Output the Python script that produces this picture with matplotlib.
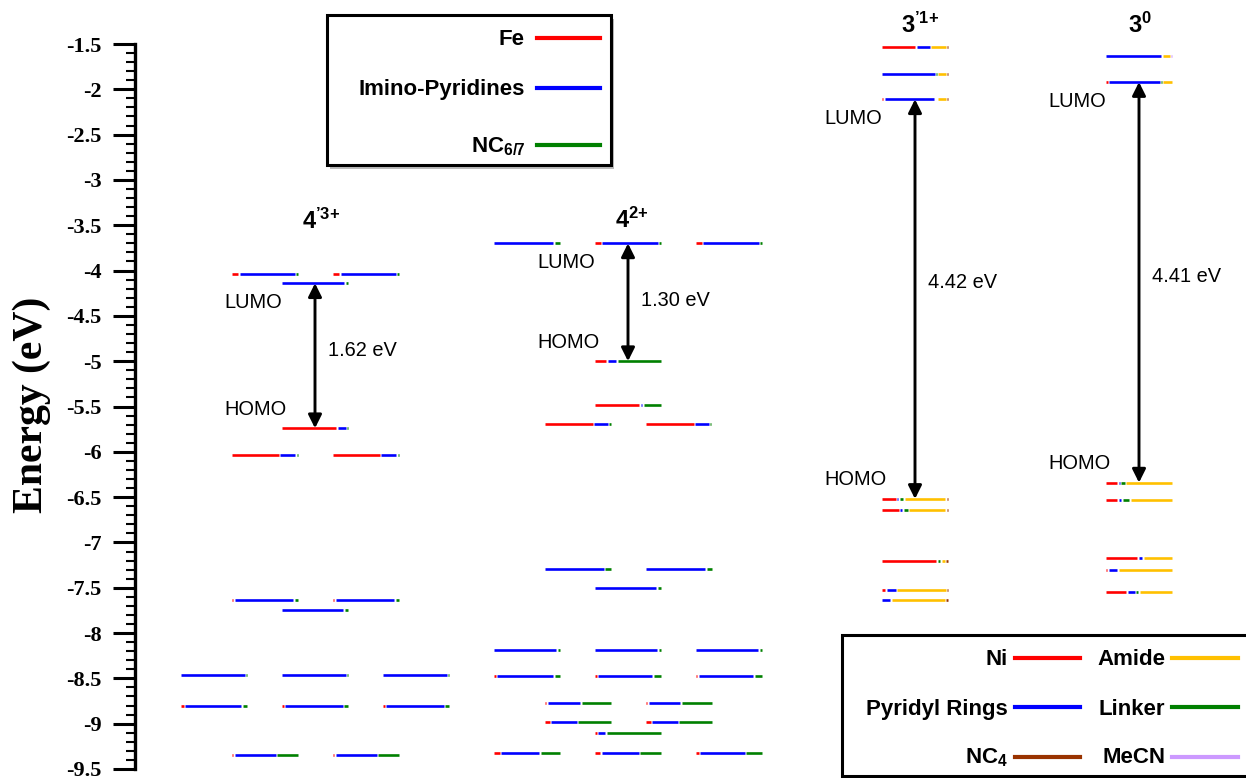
import matplotlib
matplotlib.use("Agg")
import matplotlib.pyplot as plt
from matplotlib.patches import Rectangle
from matplotlib.lines import Line2D
from matplotlib.ticker import MultipleLocator, FuncFormatter

plt.rcParams['font.family'] = ['Liberation Sans', 'DejaVu Sans']
plt.rcParams['mathtext.fontset'] = 'custom'
plt.rcParams['mathtext.rm'] = 'Liberation Sans'
plt.rcParams['mathtext.bf'] = 'Liberation Sans:bold'
plt.rcParams['mathtext.it'] = 'Liberation Sans:italic'
plt.rcParams['axes.unicode_minus'] = False

# colours of the fragments
fe_colors = ['#ff0000', '#0000ff', '#008000']                      # Fe, imino-pyridines, NC6/7
ni_colors = ['#ff0000', '#0000ff', '#008000', '#ffc000', '#993300', '#cc99ff']  # Ni, pyridyl, linker, amide, NC4, MeCN

# 4'3+ levels: energy, slot (column), fractions (Fe, imino-pyridines, NC6/7)
a_energy = [-4.04, -4.04, -4.14, -5.74, -6.03, -6.03, -7.63, -7.63, -7.74,
            -8.46, -8.46, -8.46, -8.81, -8.81, -8.81, -9.34, -9.34]
a_slot = [-1, 1, 0, 0, -1, 1, -1, 1, 0, -2, 0, 2, -2, 0, 2, -1, 1]
a_comp = [(0.11, 0.87, 0.02), (0.11, 0.87, 0.02), (0.0, 0.97, 0.03), (0.86, 0.13, 0.01),
          (0.75, 0.24, 0.01), (0.75, 0.24, 0.01), (0.03, 0.93, 0.04), (0.03, 0.93, 0.04),
          (0.0, 0.95, 0.05), (0.0, 0.99, 0.01), (0.0, 0.99, 0.01), (0.0, 0.99, 0.01),
          (0.04, 0.89, 0.07), (0.03, 0.91, 0.06), (0.03, 0.91, 0.06),
          (0.03, 0.65, 0.32), (0.03, 0.65, 0.32)]

# 4 2+ levels
b_energy = [-3.70, -3.70, -3.70, -5.00, -5.48, -5.69, -5.69, -7.29, -7.29, -7.50,
            -8.19, -8.19, -8.19, -8.47, -8.47, -8.47, -8.77, -8.77, -8.98, -8.98,
            -9.10, -9.32, -9.32, -9.32]
b_slot = [-2, 0, 2, 0, 0, -1, 1, -1, 1, 0, -2, 0, 2, -2, 0, 2, -1, 1, -1, 1, 0, -2, 0, 2]
b_comp = [(0.0, 0.92, 0.08), (0.09, 0.88, 0.03), (0.09, 0.88, 0.03), (0.18, 0.13, 0.69),
          (0.70, 0.03, 0.27), (0.76, 0.21, 0.02), (0.76, 0.21, 0.02), (0.0, 0.92, 0.08),
          (0.0, 0.93, 0.07), (0.0, 0.95, 0.05), (0.0, 0.97, 0.03), (0.0, 0.97, 0.03),
          (0.0, 0.97, 0.03), (0.03, 0.89, 0.08), (0.03, 0.86, 0.11), (0.02, 0.87, 0.11),
          (0.03, 0.51, 0.46), (0.03, 0.50, 0.47), (0.08, 0.41, 0.51), (0.08, 0.41, 0.51),
          (0.03, 0.11, 0.86), (0.09, 0.60, 0.31), (0.08, 0.59, 0.33), (0.04, 0.71, 0.25)]

# 3'1+ levels: fractions (Ni, pyridyl, linker, amide, NC4, MeCN)
c_energy = [-1.53, -1.83, -2.11, -6.52, -6.64, -7.20, -7.52, -7.64]
c_comp = [(0.54, 0.21, 0.0, 0.24, 0.01, 0.0), (0.0, 0.86, 0.01, 0.12, 0.01, 0.0),
          (0.02, 0.83, 0.01, 0.13, 0.01, 0.0), (0.23, 0.01, 0.06, 0.68, 0.02, 0.0),
          (0.28, 0.03, 0.07, 0.60, 0.02, 0.0), (0.89, 0.0, 0.03, 0.05, 0.03, 0.0),
          (0.05, 0.15, 0.0, 0.79, 0.01, 0.0), (0.0, 0.13, 0.0, 0.84, 0.03, 0.0)]

# 3^0 levels
d_energy = [-1.63, -1.92, -6.34, -6.53, -7.17, -7.30, -7.55]
d_comp = [(0.0, 0.88, 0.0, 0.11, 0.0, 0.01), (0.03, 0.82, 0.01, 0.14, 0.0, 0.0),
          (0.18, 0.02, 0.05, 0.75, 0.0, 0.0), (0.18, 0.04, 0.11, 0.67, 0.0, 0.0),
          (0.50, 0.05, 0.0, 0.45, 0.0, 0.0), (0.02, 0.13, 0.0, 0.85, 0.0, 0.0),
          (0.33, 0.11, 0.03, 0.53, 0.0, 0.0)]

group_titles = [r"$\mathbf{4}^{\mathbf{’3{+}}}$", r"$\mathbf{4}^{\mathbf{2{+}}}$",
                r"$\mathbf{3}^{\mathbf{’1{+}}}$", r"$\mathbf{3}^{\mathbf{0}}$"]
group_x = [180, 493, 780, 1004]
title_x = [186, 497, 785, 1005]
title_y = [-3.54, -3.53, -1.38, -1.38]
gap_lumo = [-4.14, -3.70, -2.11, -1.92]
gap_homo = [-5.74, -5.00, -6.52, -6.34]
gap_text = ["1.62 eV", "1.30 eV", "4.42 eV", "4.41 eV"]
gap_text_y = [-4.88, -4.33, -4.13, -4.07]

W, H = 1246, 778
fig = plt.figure(figsize=(W / 100, H / 100), dpi=100)
ax = fig.add_axes([135 / W, 9 / H, 1111 / W, 725 / H])
ax.set_xlim(0, 1111)
ax.set_ylim(-9.5, -1.5)

slot_w = 50.5
lvl_w = 66


def draw_level(xc, y, fracs, cols, gap=1.6):
    parts = [(f, c) for f, c in zip(fracs, cols) if f > 0]
    tot = sum(f for f, c in parts)
    usable = lvl_w - gap * (len(parts) - 1)
    x = xc - lvl_w / 2
    for f, c in parts:
        seg = usable * f / tot
        ax.plot([x, x + seg], [y, y], color=c, lw=1.9, solid_capstyle='butt')
        x += seg + gap


for e, s, c in zip(a_energy, a_slot, a_comp):
    draw_level(group_x[0] + s * slot_w, e, c, fe_colors)
for e, s, c in zip(b_energy, b_slot, b_comp):
    draw_level(group_x[1] + s * slot_w, e, c, fe_colors)
for e, c in zip(c_energy, c_comp):
    draw_level(group_x[2], e, c, ni_colors)
for e, c in zip(d_energy, d_comp):
    draw_level(group_x[3], e, c, ni_colors)

for i in range(4):
    cx = group_x[i]
    ax.annotate('', xy=(cx, gap_homo[i]), xytext=(cx, gap_lumo[i]),
                arrowprops=dict(arrowstyle='<|-|>', lw=2.1, color='black',
                                mutation_scale=20, shrinkA=0, shrinkB=0))
    ax.text(cx + 13, gap_text_y[i], gap_text[i], fontsize=14.4, va='center', ha='left')
    ax.text(cx - 91, gap_lumo[i] - 0.21, 'LUMO', fontsize=14.4, va='center', ha='left')
    ax.text(cx - 91, gap_homo[i] + 0.21, 'HOMO', fontsize=14.4, va='center', ha='left')
    ax.text(title_x[i], title_y[i], group_titles[i], fontsize=17, ha='center',
            va='baseline', clip_on=False)

# axis styling
for side in ['top', 'right', 'bottom']:
    ax.spines[side].set_visible(False)
ax.spines['left'].set_linewidth(2.4)
ax.set_xticks([])
ax.yaxis.set_major_locator(MultipleLocator(0.5))
ax.yaxis.set_minor_locator(MultipleLocator(0.1))
ax.yaxis.set_major_formatter(FuncFormatter(lambda v, p: '%g' % v))
ax.tick_params(axis='y', which='major', length=16, width=2.2, pad=8)
ax.tick_params(axis='y', which='minor', length=6.5, width=1.5)
for lab in ax.get_yticklabels():
    lab.set_fontfamily('Liberation Serif')
    lab.set_fontweight('bold')
    lab.set_fontsize(16)

fig.text(32 / W, 1 - 405 / H, 'Energy (eV)', rotation=90, ha='center', va='center',
         fontsize=30, fontweight='bold', family='Liberation Serif')


def fx(px):
    return px / W


def fy(py):
    return 1 - py / H


# upper legend (Fe complexes)
fig.add_artist(Rectangle((fx(330), fy(169)), fx(611) - fx(327), fy(15) - fy(165),
                         transform=fig.transFigure, facecolor='#bbbbbb', edgecolor='none'))
fig.add_artist(Rectangle((fx(327), fy(165)), fx(611) - fx(327), fy(15) - fy(165),
                         transform=fig.transFigure, facecolor='white', edgecolor='black', lw=2.2))
fe_labels = ['Fe', 'Imino-Pyridines', r'$\mathbf{NC}_{\mathbf{6/7}}$']
fe_text_y = [45, 95, 152]
fe_line_y = [38, 88, 145]
for lab, ty, ly, col in zip(fe_labels, fe_text_y, fe_line_y, fe_colors):
    fig.text(fx(525), fy(ty), lab, ha='right', va='baseline', fontsize=16, fontweight='bold')
    fig.add_artist(Line2D([fx(537), fx(600)], [fy(ly), fy(ly)], color=col, lw=3,
                          transform=fig.transFigure))

# lower legend (Ni complexes)
fig.add_artist(Rectangle((fx(845), fy(780)), fx(1260) - fx(842), fy(635) - fy(777),
                         transform=fig.transFigure, facecolor='#bbbbbb', edgecolor='none'))
fig.add_artist(Rectangle((fx(842), fy(776)), fx(1260) - fx(842), fy(635) - fy(776),
                         transform=fig.transFigure, facecolor='white', edgecolor='black', lw=2.2))
ni_left = ['Ni', 'Pyridyl Rings', r'$\mathbf{NC}_{\mathbf{4}}$']
ni_left_cols = [ni_colors[0], ni_colors[1], ni_colors[4]]
ni_right = ['Amide', 'Linker', 'MeCN']
ni_right_cols = [ni_colors[3], ni_colors[2], ni_colors[5]]
ni_text_y = [665, 715, 763]
ni_line_y = [658, 707, 757]
for i in range(3):
    fig.text(fx(1008), fy(ni_text_y[i]), ni_left[i], ha='right', va='baseline',
             fontsize=16, fontweight='bold')
    fig.add_artist(Line2D([fx(1015), fx(1080)], [fy(ni_line_y[i])] * 2, color=ni_left_cols[i],
                          lw=3, transform=fig.transFigure))
    fig.text(fx(1165), fy(ni_text_y[i]), ni_right[i], ha='right', va='baseline',
             fontsize=16, fontweight='bold')
    fig.add_artist(Line2D([fx(1172), fx(1238)], [fy(ni_line_y[i])] * 2, color=ni_right_cols[i],
                          lw=3, transform=fig.transFigure))

fig.savefig('out.png', dpi=100)
